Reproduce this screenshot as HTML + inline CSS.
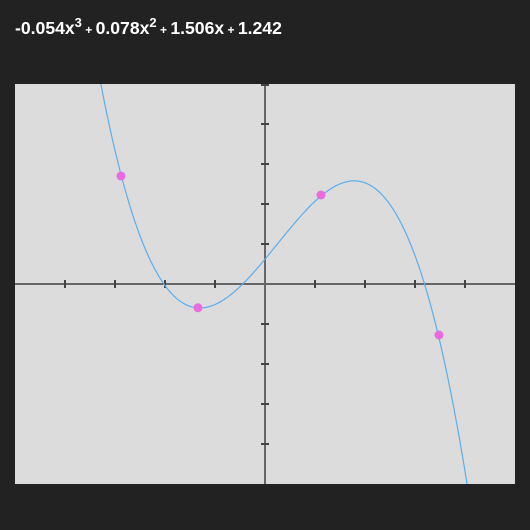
<!DOCTYPE html>
<html><head><meta charset="utf-8"><style>
html,body{margin:0;padding:0;background:#222;width:530px;height:530px;overflow:hidden}
svg{display:block}
</style></head><body>
<svg width="530" height="530">
<text x="15" y="34" fill="#fff" font-family="Liberation Sans, sans-serif" font-size="17.6" font-weight="bold">-0.054x<tspan dy="-7" font-size="13">3</tspan><tspan dy="7" font-size="12"> + </tspan>0.078x<tspan dy="-7" font-size="13">2</tspan><tspan dy="7" font-size="12"> + </tspan>1.506x<tspan font-size="12"> + </tspan>1.242</text>
<rect x="15" y="84" width="500" height="400" fill="#dcdcdc"/>
<g id="axes"></g>
<path id="curve" fill="none" stroke="#5aaef0" stroke-width="1.2"/>
<g id="pts"></g>
</svg>
<script>
const coeffs = [-0.054, 0.078, 1.506, 1.242];
const pointX = [-5.76, -2.68, 2.24, 6.96];
const pointY = [5.4, -1.19, 4.45, -2.55];
const xTicks = [-8,-6,-4,-2,2,4,6,8];
const yTicks = [-8,-6,-4,-2,2,4,6,8];
const X0=15,X1=515,Y0=84,Y1=484;
const sx=v=>X0+(v+10)/20*(X1-X0);
const sy=v=>Y1-(v+10)/20*(Y1-Y0);
const f=x=>((coeffs[0]*x+coeffs[1])*x+coeffs[2])*x+coeffs[3];
const NS='http://www.w3.org/2000/svg';
const ax=document.getElementById('axes');
function ln(x1,y1,x2,y2,c,w,name){const l=document.createElementNS(NS,'line');
l.setAttribute('x1',x1);l.setAttribute('y1',y1);l.setAttribute('x2',x2);l.setAttribute('y2',y2);
l.setAttribute('stroke',c);l.setAttribute('stroke-width',w);


ax.appendChild(l);}
ln(X0,sy(0),X1,sy(0),'#666',2,'x-axis');
ln(sx(0),Y0,sx(0),Y1,'#666',2,'y-axis');
xTicks.forEach(t=>ln(sx(t),sy(0)-4,sx(t),sy(0)+4,'#444',2,'x-tick'));
yTicks.forEach(t=>ln(sx(0)-4,sy(t),sx(0)+4,sy(t),'#444',2,'y-tick'));
ln(sx(0)-4,sy(10)+1,sx(0)+4,sy(10)+1,'#444',2,'y-tick');
let d='';
for(let i=0;i<=1000;i++){const x=-10+20*i/1000;let y=f(x);y=Math.max(-11,Math.min(11,y));d+=(i?'L':'M')+sx(x).toFixed(2)+' '+sy(y).toFixed(2);}
const c=document.getElementById('curve');c.setAttribute('d',d);
const clip=document.createElementNS(NS,'clipPath');clip.id='cp';
const r=document.createElementNS(NS,'rect');r.setAttribute('x',X0);r.setAttribute('y',Y0);r.setAttribute('width',X1-X0);r.setAttribute('height',Y1-Y0);
clip.appendChild(r);document.querySelector('svg').appendChild(clip);c.setAttribute('clip-path','url(#cp)');
const pg=document.getElementById('pts');
pointX.forEach((x,i)=>{const p=document.createElementNS(NS,'circle');
p.setAttribute('cx',sx(x));p.setAttribute('cy',sy(pointY[i]));p.setAttribute('r',4.5);p.setAttribute('fill','#e86be0');


pg.appendChild(p);});
</script>
</body></html>
